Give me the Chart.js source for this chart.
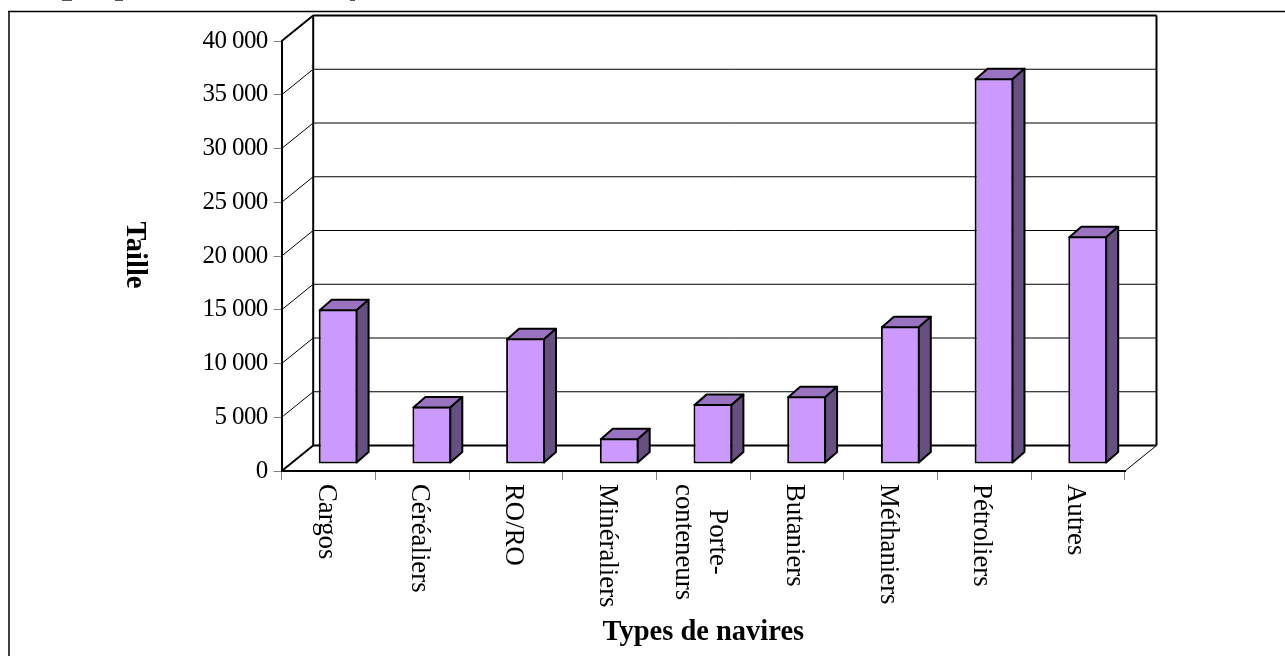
<!DOCTYPE html>
<html lang="fr">
<head>
<meta charset="utf-8">
<title>Taille par types de navires</title>
<script src="https://cdn.jsdelivr.net/npm/chart.js@4"></script>
<style>
  html, body { margin:0; padding:0; background:#fff; }
  canvas { display:block; }
</style>
</head>
<body>
<canvas id="chart" width="1285" height="656"></canvas>
<script>
const categories = ['Cargos','Céréaliers','RO/RO','Minéraliers',['Porte-','conteneurs'],'Butaniers','Méthaniers','Pétroliers','Autres'];
const tailles = [14400, 5350, 11700, 2400, 5570, 6310, 12820, 35890, 21190];
const xTitle = 'Types de navires';
const yTitle = 'Taille';

const serif = '"Liberation Serif", "Times New Roman", serif';
const wallDx = 31.5, wallDy = -25.5;    // front axis -> back wall
const barDx = 9.6, barDy = -7;          // bars stand inside the floor
const sideDx = 12, sideDy = -10.5;      // depth of each bar

function line(ctx, x1, y1, x2, y2, width){
  ctx.lineWidth = width;
  ctx.beginPath(); ctx.moveTo(x1,y1); ctx.lineTo(x2,y2); ctx.stroke();
}

// frame of the page + fake 3D walls, built from the real scales
const wallsPlugin = {
  id:'walls',
  beforeDraw(chart){
    const ctx = chart.ctx;
    ctx.save();
    // bottoms of the cropped caption letters above the frame
    ctx.fillStyle = '#555';
    ctx.fillRect(62, 0, 10, 1);
    ctx.fillRect(115, 0, 8, 1);
    ctx.fillRect(350, 0, 5, 1);
    ctx.strokeStyle = '#404040';
    line(ctx, 9, 11, 9, 656, 2);
    ctx.strokeStyle = '#000';
    line(ctx, 8, 11.5, 1285, 11.5, 1.5);
    ctx.restore();
    ctx.letterSpacing = '-0.6px';   // y tick labels are tight in the original
  },
  beforeDatasetsDraw(chart){
    const ctx = chart.ctx, y = chart.scales.y, x = chart.scales.x, {left, right} = chart.chartArea;
    ctx.letterSpacing = '0px';
    ctx.save();
    ctx.strokeStyle = '#000';
    y.ticks.forEach(t => {
      const py = y.getPixelForValue(t.value);
      const edge = t.value === 0 || t.value === y.max;
      line(ctx, left, py, left+wallDx, py+wallDy, edge ? 2 : 1);
      line(ctx, left+wallDx, py+wallDy, right+wallDx, py+wallDy, edge ? 2 : 1);
    });
    // back wall sides and floor corner
    const top = y.getPixelForValue(y.max)+wallDy, bottom = y.getPixelForValue(0);
    line(ctx, left+wallDx, top, left+wallDx, bottom+wallDy, 2);
    line(ctx, right+wallDx, top, right+wallDx, bottom+wallDy, 2);
    line(ctx, right, bottom, right+wallDx, bottom+wallDy, 1);

    // labels read top to bottom, which the scale cannot do on its own
    ctx.fillStyle = '#000';
    ctx.font = '26.8px '+serif;
    ctx.textBaseline = 'middle';
    x.ticks.forEach((t, i) => {
      const lab = x.getLabelForValue(t.value), px = x.getPixelForTick(i)-3;
      const lines = Array.isArray(lab) ? lab : [lab];
      const widest = Math.max(...lines.map(s => ctx.measureText(s).width));
      lines.forEach((s, n) => {
        ctx.save();
        ctx.translate(px-(n-(lines.length-1)/2)*34, bottom+13+widest/2);
        ctx.rotate(Math.PI/2);
        ctx.textAlign = 'center';
        ctx.fillText(s, 0, 0);
        ctx.restore();
      });
    });
    // axis titles
    ctx.font = 'bold 28.5px '+serif;
    ctx.textAlign = 'center';
    ctx.fillText(xTitle, (x.left+x.right)/2, 633);
    ctx.save();
    ctx.translate(134, (y.top+y.bottom)/2-1);
    ctx.rotate(Math.PI/2);
    ctx.fillText(yTitle, 0, 0);
    ctx.restore();
    ctx.restore();
  },
  // bars are the library's own elements, only moved back and given depth
  beforeDatasetDraw(chart){
    chart.ctx.save();
    chart.ctx.translate(barDx, barDy);
  },
  afterDatasetDraw(chart, args){
    const ctx = chart.ctx;
    ctx.strokeStyle = '#000';
    ctx.lineWidth = 2;
    ctx.lineJoin = 'round';
    args.meta.data.forEach(bar => {
      const l = bar.x-bar.width/2, r = bar.x+bar.width/2, t = bar.y, b = bar.base;
      ctx.fillStyle = '#9973C0';
      ctx.beginPath();
      ctx.moveTo(l+1,t+1); ctx.lineTo(l+1+sideDx,t+1+sideDy); ctx.lineTo(r-1+sideDx,t+1+sideDy); ctx.lineTo(r-1,t+1);
      ctx.closePath(); ctx.fill(); ctx.stroke();
      ctx.fillStyle = '#665080';
      ctx.beginPath();
      ctx.moveTo(r-1,t+1); ctx.lineTo(r-1+sideDx,t+1+sideDy); ctx.lineTo(r-1+sideDx,b-1+sideDy); ctx.lineTo(r-1,b-1);
      ctx.closePath(); ctx.fill(); ctx.stroke();
    });
    ctx.restore();
  }
};

new Chart(document.getElementById('chart'), {
  type:'bar',
  data:{
    labels:categories,
    datasets:[{
      data:tailles,
      backgroundColor:'#CC99FF',
      borderColor:'#000',
      borderWidth:2,
      borderSkipped:false,
      barPercentage:0.415,
      categoryPercentage:1,
      clip:false
    }]
  },
  options:{
    responsive:false,
    animation:false,
    layout:{padding:{top:41, right:160, left:0, bottom:0}},
    plugins:{legend:{display:false}, tooltip:{enabled:false}, title:{display:false}},
    scales:{
      x:{
        afterFit(s){ s.height = 185; },
        border:{color:'#000', width:2},
        grid:{drawOnChartArea:false, color:'#808080', tickLength:9, lineWidth:1},
        ticks:{display:false, autoSkip:false}
      },
      y:{
        min:0, max:40000,
        afterFit(s){ s.width = 281.7; },
        border:{color:'#000', width:2},
        grid:{drawOnChartArea:false, color:'#808080', tickLength:8, lineWidth:1},
        ticks:{
          stepSize:5000, color:'#000', font:{family:serif, size:25}, padding:6,
          callback(v){ return String(v).replace(/\B(?=(\d{3})+$)/g, ' '); }
        }
      }
    }
  },
  plugins:[wallsPlugin]
});
</script>
</body>
</html>
